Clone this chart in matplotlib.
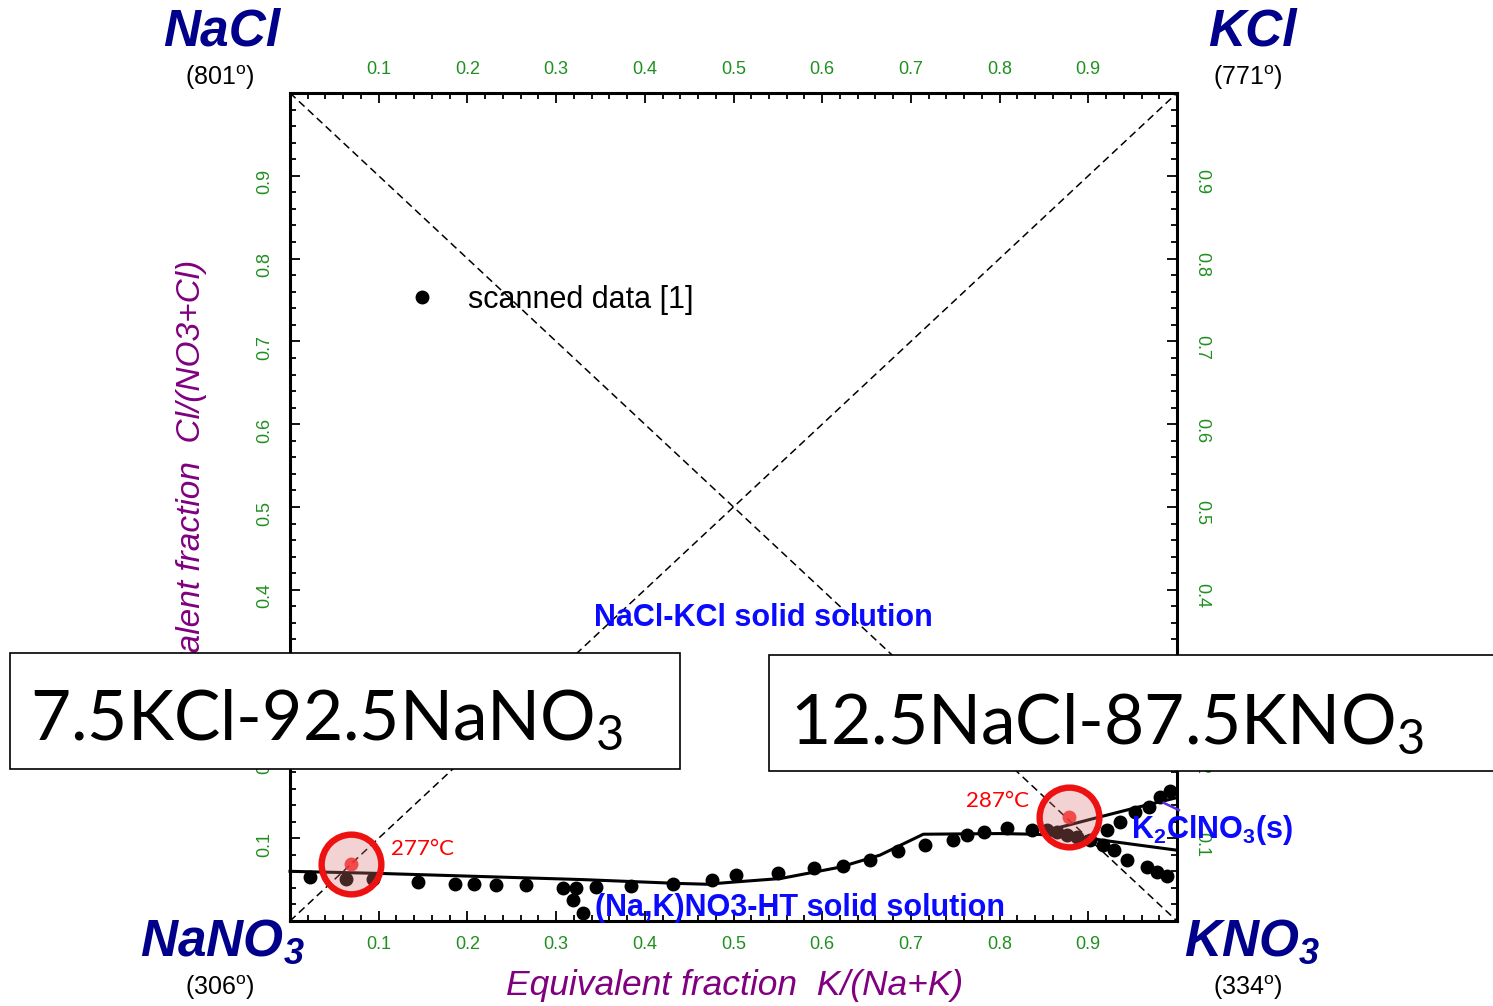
import matplotlib
matplotlib.use("Agg")
import matplotlib.pyplot as plt
import numpy as np
from matplotlib.patches import Rectangle
from matplotlib.ticker import MultipleLocator

plt.rcParams["font.family"] = ["Liberation Sans", "DejaVu Sans"]
plt.rcParams["mathtext.default"] = "regular"

W, H = 1493, 1006

# scanned liquidus points, x = K/(Na+K), y = Cl/(NO3+Cl)
scan_x = [0.023, 0.063, 0.094, 0.144, 0.186, 0.207, 0.232, 0.266, 0.308, 0.322,
          0.319, 0.330, 0.345, 0.384, 0.432, 0.476, 0.503, 0.550, 0.591, 0.623,
          0.654, 0.685, 0.716, 0.748, 0.763, 0.782, 0.808, 0.837, 0.854, 0.865,
          0.876, 0.887, 0.902, 0.921, 0.936, 0.953, 0.968, 0.981, 0.992,
          0.917, 0.929, 0.944, 0.966, 0.977, 0.989]
scan_y = [0.053, 0.051, 0.051, 0.047, 0.045, 0.045, 0.044, 0.044, 0.040, 0.040,
          0.025, 0.010, 0.041, 0.042, 0.045, 0.049, 0.055, 0.058, 0.064, 0.067,
          0.074, 0.085, 0.092, 0.098, 0.104, 0.108, 0.112, 0.110, 0.110, 0.108,
          0.104, 0.102, 0.098, 0.110, 0.120, 0.132, 0.138, 0.150, 0.157,
          0.092, 0.086, 0.074, 0.065, 0.059, 0.054]

# calculated liquidus curve
calc_x = [0.0, 0.10, 0.33, 0.44, 0.47, 0.50, 0.553, 0.62, 0.665, 0.714, 0.80, 0.84, 0.90, 0.913, 1.0]
calc_y = [0.060, 0.0575, 0.050, 0.0453, 0.0444, 0.047, 0.0513, 0.065, 0.0795, 0.1048, 0.1056, 0.1048, 0.1008, 0.098, 0.0855]
branch_x = [0.848, 0.913, 0.958, 1.0]
branch_y = [0.1076, 0.1257, 0.138, 0.149]

# eutectic compositions
eut_x = [0.069, 0.878]
eut_y = [0.0686, 0.1257]
eut_labels = ["277°C", "287°C"]

ticks = [0.1, 0.2, 0.3, 0.4, 0.5, 0.6, 0.7, 0.8, 0.9]
tick_labels = ["0.1", "0.2", "0.3", "0.4", "0.5", "0.6", "0.7", "0.8", "0.9"]

fig = plt.figure(figsize=(W / 100, H / 100), dpi=100)
ax = fig.add_axes([290 / W, 1 - 921 / H, 887 / W, 828 / H])
ax.set_xlim(0, 1)
ax.set_ylim(0, 1)

green = "#1f8f1f"
ax.set_xticks(ticks, tick_labels)
ax.set_yticks(ticks, tick_labels)
ax.xaxis.set_minor_locator(MultipleLocator(0.02))
ax.yaxis.set_minor_locator(MultipleLocator(0.02))
ax.tick_params(which="both", direction="in", top=True, right=True,
               labeltop=True, labelright=True, colors="black",
               labelcolor=green, labelsize=13, width=1.3)
ax.tick_params(which="major", length=7.5)
ax.tick_params(which="minor", length=4.5)
ax.tick_params(axis="x", pad=11)
ax.tick_params(axis="y", pad=12)
for tick in ax.yaxis.get_major_ticks():
    tick.label1.set_rotation(90)
    tick.label2.set_rotation(-90)
for spine in ax.spines.values():
    spine.set_linewidth(2.2)

ax.plot([0, 1], [1, 0], color="black", lw=1.1, ls=(0, (5, 3)))
ax.plot([0, 1], [0, 1], color="black", lw=1.1, ls=(0, (5, 3)))

ax.plot(calc_x, calc_y, color="black", lw=2.2, clip_on=False, zorder=3)
ax.plot(branch_x, branch_y, color="black", lw=2.2, clip_on=False, zorder=3)
ax.plot(scan_x, scan_y, "o", color="black", ms=9, ls="none", clip_on=False,
        zorder=4, label="scanned data [1]")

ax.plot(eut_x, eut_y, "o", ls="none", ms=43, mew=4.6, mec="#ee1111",
        mfc=(0.85, 0.45, 0.45, 0.32), zorder=5)
ax.plot(eut_x, eut_y, "o", ls="none", ms=10, mew=0, mfc=(0.95, 0.2, 0.2, 0.85), zorder=6)
ax.text(0.1135, 0.0795, eut_labels[0], color="red", fontsize=16, family="Lato", zorder=7)
ax.text(0.7625, 0.1378, eut_labels[1], color="red", fontsize=16, family="Lato", zorder=7)

ax.legend(loc="center left", bbox_to_anchor=(0.1287, 0.750), frameon=False,
          fontsize=22, handlelength=1.2, handletextpad=0.9, borderpad=0,
          borderaxespad=0)

blue = "#0a0aff"
ax.text(0.5335, 0.366, "NaCl-KCl solid solution", color=blue, fontsize=22,
        fontweight="bold", ha="center", va="center", zorder=7)
ax.text(0.5755, 0.016, "(Na,K)NO3-HT solid solution", color=blue, fontsize=22,
        fontweight="bold", ha="center", va="center", zorder=7)
ax.text(0.948, 0.110, "K$_2$ClNO$_3$(s)", color=blue, fontsize=22,
        fontweight="bold", ha="left", va="center", zorder=7, clip_on=False)
ax.plot([0.985, 1.002], [0.1427, 0.134], color="#5a2ee0", lw=1.8, clip_on=False, zorder=7)

navy = "#00008b"
corner = dict(color=navy, fontsize=37, fontweight="bold", style="italic",
              ha="center", va="baseline")
fig.text(222 / W, 1 - 46 / H, "NaCl", **corner)
fig.text(1252 / W, 1 - 46 / H, "KCl", **corner)
fig.text(222 / W, 1 - 956 / H, "NaNO$_3$", **corner)
fig.text(1252 / W, 1 - 956 / H, "KNO$_3$", **corner)

melt = dict(color="black", fontsize=18, ha="center", va="center")
fig.text(220 / W, 1 - 78 / H, "(801$^o$)", **melt)
fig.text(1248 / W, 1 - 78 / H, "(771$^o$)", **melt)
fig.text(220 / W, 1 - 988 / H, "(306$^o$)", **melt)
fig.text(1248 / W, 1 - 988 / H, "(334$^o$)", **melt)

purple = "#800080"
fig.text(735 / W, 1 - 985 / H, "Equivalent fraction  K/(Na+K)", color=purple,
         fontsize=25.5, style="italic", ha="center", va="center")
fig.text(192 / W, 1 - 498 / H, "Equivalent fraction  Cl/(NO3+Cl)", color=purple,
         fontsize=24, style="italic", ha="center", va="center", rotation=90,
         zorder=0.5)

# composition boxes laid over the chart
fig.add_artist(Rectangle((10 / W, 1 - 769 / H), 670 / W, 116 / H, transform=fig.transFigure,
                         facecolor="white", edgecolor="black", lw=1.2, zorder=2))
fig.add_artist(Rectangle((769 / W, 1 - 771 / H), 740 / W, 116 / H, transform=fig.transFigure,
                         facecolor="white", edgecolor="black", lw=1.2, zorder=2, clip_on=False))
fig.text(30 / W, 1 - 740 / H, "7.5KCl-92.5NaNO$_3$", fontsize=50, family="Lato",
         ha="left", va="baseline", zorder=3)
fig.text(790 / W, 1 - 743 / H, "12.5NaCl-87.5KNO$_3$", fontsize=50, family="Lato",
         ha="left", va="baseline", zorder=3)

fig.savefig("out.png", dpi=100)
